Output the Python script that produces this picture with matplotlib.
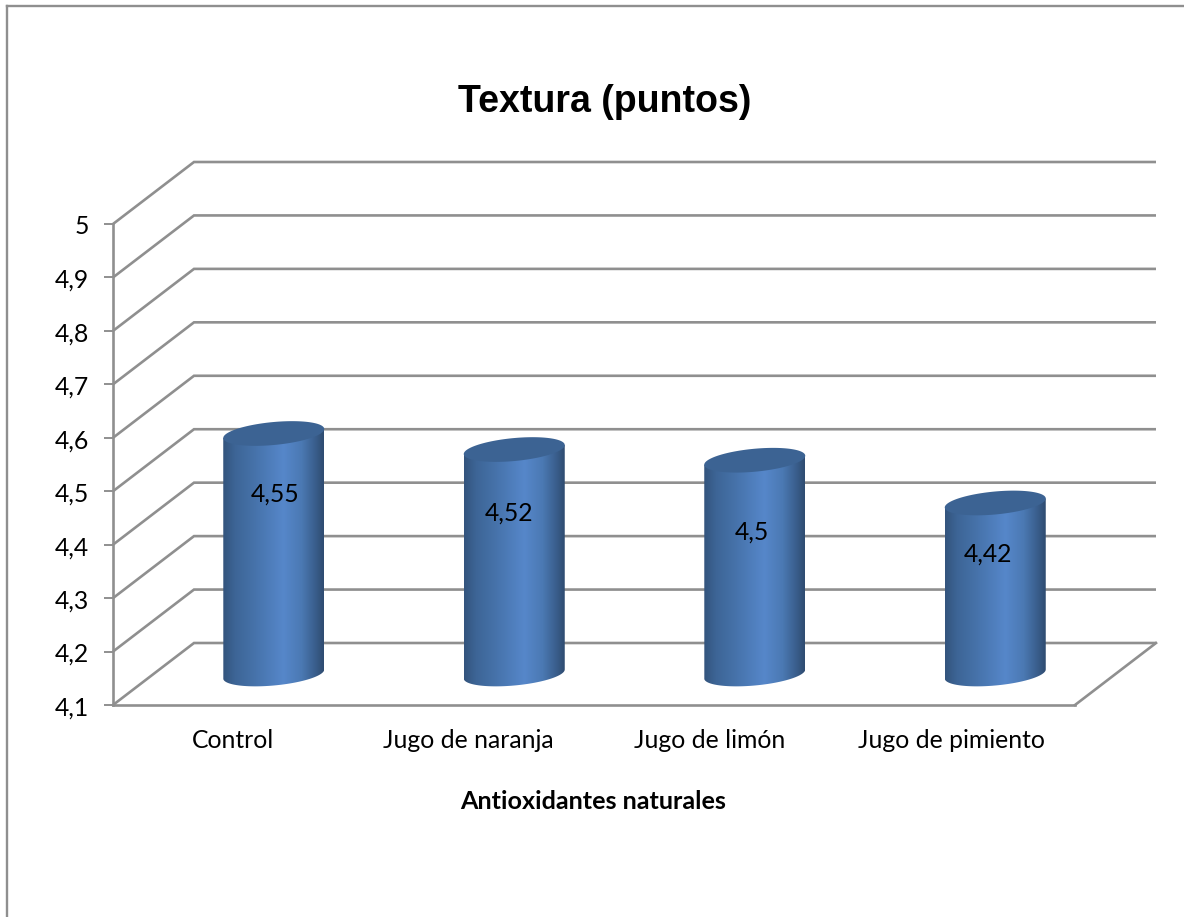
import matplotlib
matplotlib.use('Agg')
import matplotlib.pyplot as plt
import numpy as np
from matplotlib.colors import LinearSegmentedColormap
from matplotlib.lines import Line2D
from matplotlib.patches import Polygon
from matplotlib.transforms import ScaledTranslation

categories = ['Control', 'Jugo de naranja', 'Jugo de limón', 'Jugo de pimiento']
values = [4.55, 4.52, 4.5, 4.42]
value_labels = ['4,55', '4,52', '4,5', '4,42']
y_ticks = [4.1, 4.2, 4.3, 4.4, 4.5, 4.6, 4.7, 4.8, 4.9, 5.0]
y_tick_labels = ['4,1', '4,2', '4,3', '4,4', '4,5', '4,6', '4,7', '4,8', '4,9', '5']

W, H = 1184, 917
GRAY = '#8f8f8f'
DEPTH_PX = (81, 62)
# data labels were placed by hand on each bar
LABEL_SHIFT_PX = [(1, -61), (-5, -64), (-3, -72), (-7, -51)]
CATEGORY_SHIFT_PX = [0, -5, -5, -3]

plt.rcParams['font.family'] = ['Lato', 'DejaVu Sans']

fig = plt.figure(figsize=(W / 100, H / 100), dpi=100)
ax = fig.add_axes([113 / W, 1 - 705 / H, 962 / W, 481 / H])
ax.set_xlim(0, 4)
ax.set_ylim(4.1, 5)
ax.patch.set_visible(False)

# depth of the 3D box in data units
dx = DEPTH_PX[0] * 4 / 962
dy = DEPTH_PX[1] * 0.9 / 481

# outer chart border, runs off the right and bottom of the image
fig.add_artist(Line2D([7 / W, 7 / W], [0, 1 - 6 / H], color=GRAY, lw=1.7))
fig.add_artist(Line2D([7 / W, 1], [1 - 6 / H, 1 - 6 / H], color=GRAY, lw=1.7))

# gridlines wrap from the left wall onto the back wall
for v in y_ticks:
    ax.plot([0, dx, 4 + dx], [v, v + dy, v + dy], color=GRAY, lw=1.9,
            clip_on=False, zorder=1, solid_joinstyle='miter', solid_capstyle='butt')
ax.plot([4, 4 + dx], [4.1, 4.1 + dy], color=GRAY, lw=1.9, clip_on=False, zorder=1)

for side in ['top', 'right']:
    ax.spines[side].set_visible(False)
for side in ['left', 'bottom']:
    ax.spines[side].set_color(GRAY)
    ax.spines[side].set_linewidth(1.9)

ax.set_yticks(y_ticks, y_tick_labels)
ax.tick_params(axis='y', length=6.5, width=1.4, color=GRAY, pad=11, labelsize=17.8)
ax.set_xticks(np.arange(len(categories)) + 0.5, categories)
ax.tick_params(axis='x', length=0, pad=17, labelsize=17.8)
for lbl, shift in zip(ax.get_xticklabels(), CATEGORY_SHIFT_PX):
    lbl.set_transform(lbl.get_transform() + ScaledTranslation(shift / 100, 0, fig.dpi_scale_trans))
for lbl in ax.get_yticklabels():
    lbl.set_transform(lbl.get_transform() + ScaledTranslation(0, -1 / 100, fig.dpi_scale_trans))
ax.set_xlabel('Antioxidantes naturales', fontsize=18.1, fontweight='bold')
ax.xaxis.set_label_coords(480 / 962, -85 / 481)

fig.text(605 / W, 1 - 102 / H, 'Textura (puntos)', ha='center', va='center',
         fontsize=27, fontweight='bold', family='Liberation Sans')

# cylinders
side_cmap = LinearSegmentedColormap.from_list(
    'cyl', [(0, '#33547d'), (0.12, '#3d6596'), (0.35, '#4875ae'), (0.6, '#5687ca'),
            (0.78, '#4b79b3'), (0.92, '#395d8b'), (1, '#2f4c70')])
half_w = 50.5 * 4 / 962
rx_y = 11.5 * 0.9 / 481
tilt_y = 4.5 * 0.9 / 481
t = np.linspace(0, 2 * np.pi, 121)

for i, (val, txt) in enumerate(zip(values, value_labels)):
    cx = i + 0.5 + dx / 2
    base = 4.1 + dy / 2
    top = val + dy / 2
    ex = cx + half_w * np.cos(t)
    ey = rx_y * np.sin(t) + tilt_y * np.cos(t)

    # outline of the body: lower half of the base ellipse, closed under the top cap
    lower = ey <= np.interp(ex, [cx - half_w, cx + half_w], [-tilt_y, tilt_y])
    order = np.argsort(ex[lower])
    bx = ex[lower][order]
    by = base + ey[lower][order]
    body = np.column_stack([np.r_[bx, cx + half_w, cx - half_w],
                            np.r_[by, top + tilt_y, top - tilt_y]])
    poly = Polygon(body, closed=True, facecolor='none', edgecolor='none', zorder=2)
    ax.add_patch(poly)
    im = ax.imshow(np.linspace(0, 1, 256)[None, :], cmap=side_cmap, aspect='auto',
                   extent=[cx - half_w, cx + half_w, base - 2 * rx_y, top + 2 * rx_y],
                   zorder=2, interpolation='bilinear')
    im.set_clip_path(poly)

    ax.fill(ex, top + ey, color='#3c6393', lw=0, zorder=3)
    ax.annotate(txt, (cx, top), xytext=LABEL_SHIFT_PX[i], textcoords='offset pixels',
                ha='center', va='center', fontsize=17.8, color='black', zorder=4)

ax.set_xlim(0, 4)
ax.set_ylim(4.1, 5)

fig.savefig('out.png', dpi=100, facecolor='white')
